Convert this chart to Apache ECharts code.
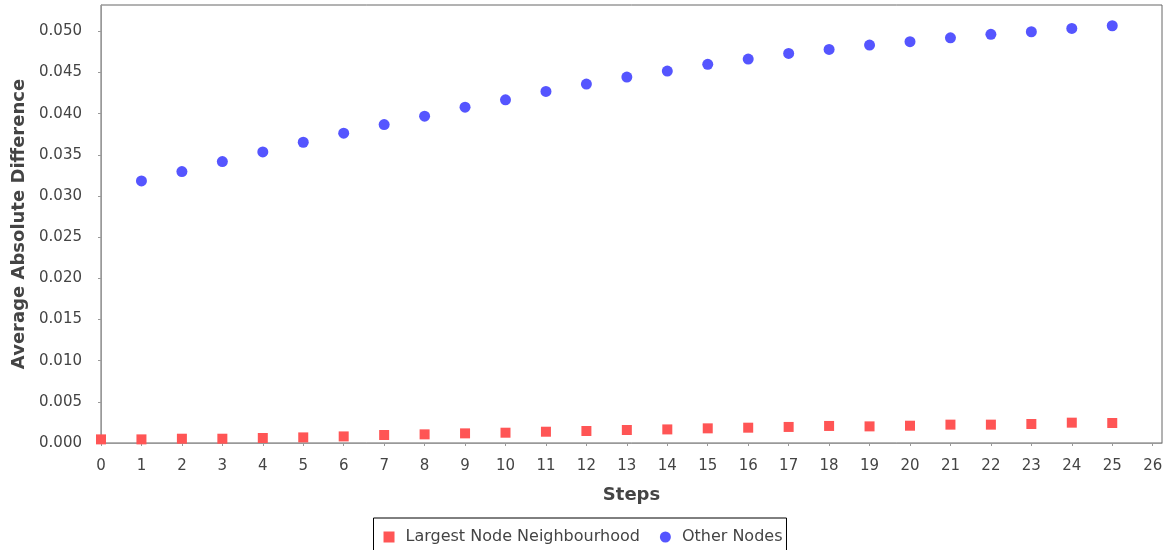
<!DOCTYPE html>
<html>
<head>
<meta charset="utf-8">
<script src="https://cdn.jsdelivr.net/npm/echarts@6/dist/echarts.min.js"></script>
<style>html,body{margin:0;padding:0;background:#fff;}#c{width:1166px;height:550px;}</style>
</head>
<body>
<div id="c"></div>
<script>
const steps = [0,1,2,3,4,5,6,7,8,9,10,11,12,13,14,15,16,17,18,19,20,21,22,23,24,25];
const largestNode = [0.00044,0.00044,0.00052,0.00052,0.00061,0.00068,0.0008,0.00097,0.00105,0.00117,0.00125,0.00137,0.00146,0.00158,0.00165,0.00178,0.00186,0.00195,0.00207,0.00202,0.0021,0.00223,0.00223,0.00231,0.00247,0.00243];
const otherSteps = [1,2,3,4,5,6,7,8,9,10,11,12,13,14,15,16,17,18,19,20,21,22,23,24,25];
const otherNodes = [0.03183,0.03297,0.03418,0.03535,0.03653,0.03763,0.03868,0.0397,0.04079,0.04168,0.0427,0.04359,0.04444,0.04517,0.04599,0.04663,0.04732,0.04781,0.04833,0.04874,0.04922,0.04964,0.04995,0.05036,0.05068];
const seriesNames = ['Largest Node Neighbourhood','Other Nodes'];
const xTitle = 'Steps';
const yTitle = 'Average Absolute Difference';

const FONT = 'DejaVu Sans';
const chart = echarts.init(document.getElementById('c'), null, {renderer:'canvas'});
chart.setOption({
  animation:false,
  backgroundColor:'#fff',
  textStyle:{fontFamily:FONT},
  grid:{left:101,right:4,top:5,bottom:107,show:true,borderColor:'#666',borderWidth:1,backgroundColor:'#fff'},
  xAxis:{
    type:'value',min:0,max:26.23,interval:1,offset:5,
    name:xTitle,nameLocation:'middle',nameGap:38,
    nameTextStyle:{fontFamily:FONT,fontSize:18,fontWeight:'bold',color:'#444'},
    axisLine:{show:true,lineStyle:{color:'#999',width:1}},
    axisTick:{show:true,length:3,lineStyle:{color:'#999'}},
    axisLabel:{fontFamily:FONT,fontSize:15,color:'#444',margin:11,showMaxLabel:false,
      formatter:v=>Math.abs(v-Math.round(v))<1e-6?String(Math.round(v)):''},
    splitLine:{show:false}
  },
  yAxis:{
    type:'value',min:0,max:0.0532,interval:0.005,offset:6,
    name:yTitle,nameLocation:'middle',nameGap:66,
    nameTextStyle:{fontFamily:FONT,fontSize:18,fontWeight:'bold',color:'#444'},
    axisLine:{show:true,lineStyle:{color:'#999',width:1}},
    axisTick:{show:true,length:3,lineStyle:{color:'#999'}},
    axisLabel:{fontFamily:FONT,fontSize:15,color:'#444',margin:13,showMaxLabel:false,
      formatter:v=>{const k=Math.round(v/0.005);return Math.abs(v-k*0.005)<1e-9?v.toFixed(3):'';}},
    splitLine:{show:false}
  },
  legend:{
    left:'center',top:518,orient:'horizontal',
    borderColor:'#000',borderWidth:1,borderRadius:0,padding:[11,4,11,10],
    itemWidth:11,itemHeight:11,itemGap:20,
    textStyle:{fontFamily:FONT,fontSize:16,color:'#444',padding:[0,0,0,6]},
    data:[{name:seriesNames[0],icon:'rect'},{name:seriesNames[1],icon:'circle'}]
  },
  series:[
    {name:seriesNames[0],type:'scatter',symbol:'rect',symbolSize:10,clip:true,
     itemStyle:{color:'#FF5555',opacity:1},data:steps.map((s,i)=>[s,largestNode[i]])},
    {name:seriesNames[1],type:'scatter',symbol:'circle',symbolSize:11,clip:true,
     itemStyle:{color:'#5555FF',opacity:1},data:otherSteps.map((s,i)=>[s,otherNodes[i]])}
  ]
});
</script>
</body>
</html>
